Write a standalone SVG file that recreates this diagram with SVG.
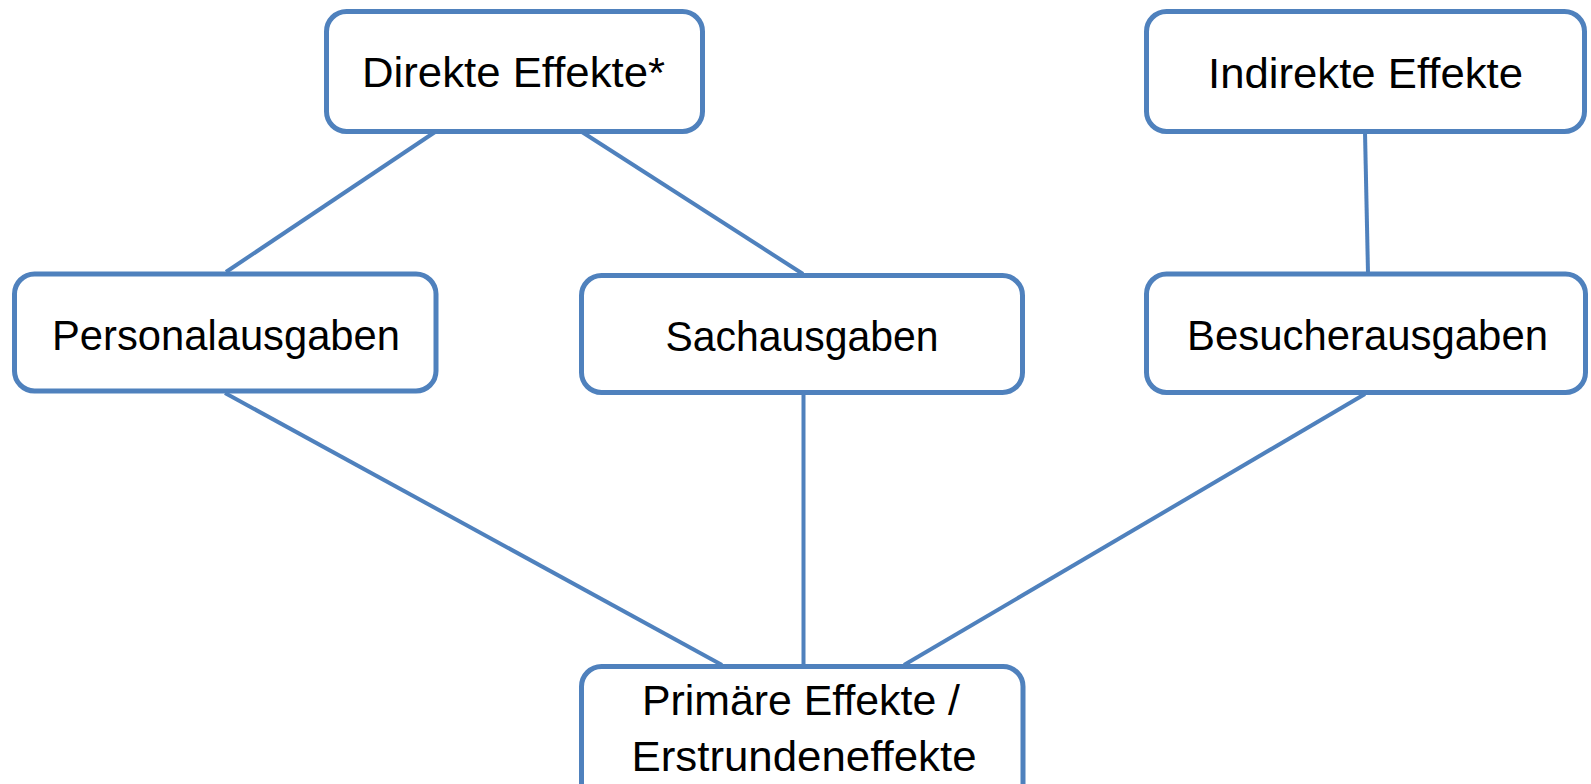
<svg xmlns="http://www.w3.org/2000/svg" width="1591" height="784" viewBox="0 0 1591 784">
<style>
.box{fill:#ffffff;stroke:#4F81BD;stroke-width:5}
.lbl{font-family:"Liberation Sans",Arial,sans-serif;font-size:42px;fill:#000000;text-anchor:middle}
.con{stroke:#4F81BD;stroke-width:4;fill:none}
</style>
<rect width="1591" height="784" fill="#ffffff"/>
<g id="connectors">
<line class="con" x1="435" y1="132" x2="226" y2="272"/>
<line class="con" x1="582" y1="132" x2="803" y2="274"/>
<line class="con" x1="1365" y1="132" x2="1368" y2="273"/>
<line class="con" x1="225" y1="393" x2="722" y2="665"/>
<line class="con" x1="803.5" y1="394" x2="803.5" y2="665"/>
<line class="con" x1="1365" y1="394" x2="904" y2="665"/>
</g>
<g id="direkte">
<rect class="box" x="326.5" y="11.5" width="376" height="120" rx="20"/>
<text class="lbl" x="513.5" y="87" textLength="303" lengthAdjust="spacingAndGlyphs">Direkte Effekte*</text>
</g>
<g id="indirekte">
<rect class="box" x="1146.5" y="11.5" width="438" height="120" rx="20"/>
<text class="lbl" x="1365.5" y="88" textLength="315" lengthAdjust="spacingAndGlyphs">Indirekte Effekte</text>
</g>
<g id="personal">
<rect class="box" x="14.5" y="274" width="421.5" height="117" rx="20"/>
<text class="lbl" x="226" y="350" textLength="348" lengthAdjust="spacingAndGlyphs">Personalausgaben</text>
</g>
<g id="sach">
<rect class="box" x="581.5" y="275.5" width="441" height="117" rx="20"/>
<text class="lbl" x="802" y="350.5" textLength="273" lengthAdjust="spacingAndGlyphs">Sachausgaben</text>
</g>
<g id="besucher">
<rect class="box" x="1146.5" y="274" width="439" height="118.5" rx="20"/>
<text class="lbl" x="1367.5" y="350" textLength="361" lengthAdjust="spacingAndGlyphs">Besucherausgaben</text>
</g>
<g id="primaer">
<rect class="box" x="581.5" y="666.5" width="441.5" height="140" rx="20"/>
<text class="lbl" x="801" y="715" textLength="318" lengthAdjust="spacingAndGlyphs">Primäre Effekte /</text>
<text class="lbl" x="804" y="770.5" textLength="345" lengthAdjust="spacingAndGlyphs">Erstrundeneffekte</text>
</g>
</svg>
